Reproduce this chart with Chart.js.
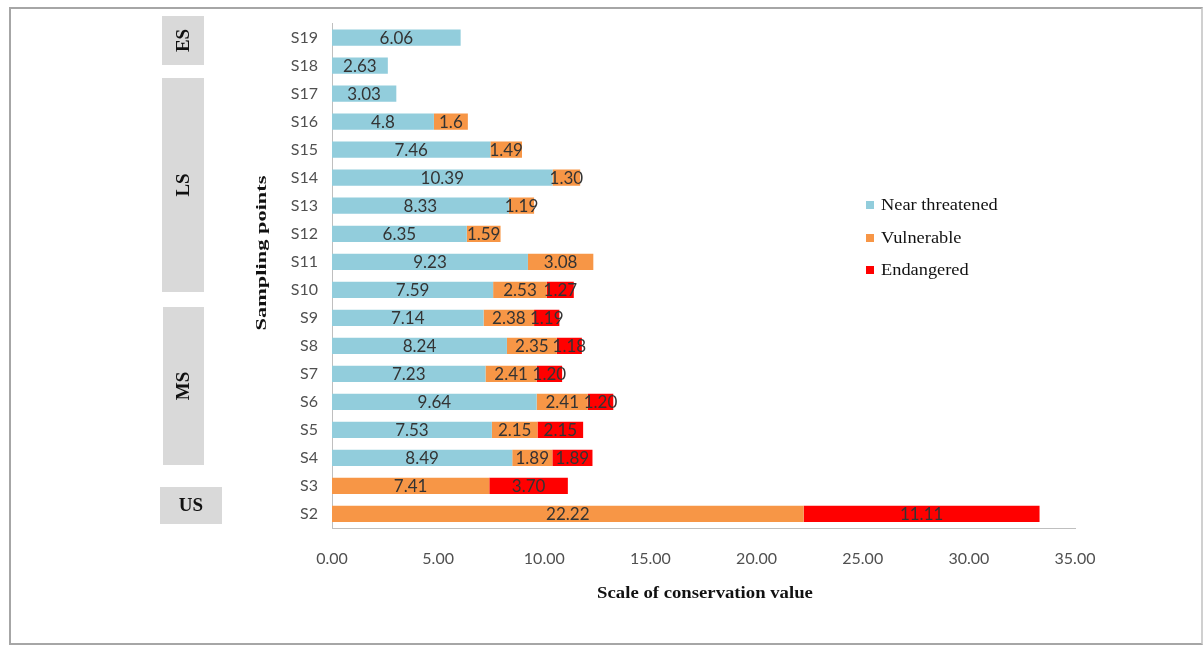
<!DOCTYPE html>
<html>
<head>
<meta charset="utf-8">
<script src="https://cdn.jsdelivr.net/npm/chart.js@4/dist/chart.umd.min.js"></script>
<style>
  html, body { margin: 0; padding: 0; background: #fff; }
  #wrap { position: relative; width: 1203px; height: 645px; }
  #frame { position: absolute; left: 9px; top: 7px; width: 1190px; height: 634px; border: 2px solid #a6a6a6; border-right-color: #d0d0d0; }
  canvas { position: absolute; left: 0; top: 0; }
</style>
</head>
<body>
<div id="wrap">
  <div id="frame"></div>
  <canvas id="chart" width="1203" height="645"></canvas>
</div>
<script>
// Sampling points, top to bottom
const points = ['S19', 'S18', 'S17', 'S16', 'S15', 'S14', 'S13', 'S12', 'S11', 'S10',
                'S9', 'S8', 'S7', 'S6', 'S5', 'S4', 'S3', 'S2'];

const nearThreatened = [6.06, 2.63, 3.03, 4.8, 7.46, 10.39, 8.33, 6.35, 9.23, 7.59,
                        7.14, 8.24, 7.23, 9.64, 7.53, 8.49, null, null];
const vulnerable = [null, null, null, 1.6, 1.49, 1.30, 1.19, 1.59, 3.08, 2.53,
                    2.38, 2.35, 2.41, 2.41, 2.15, 1.89, 7.41, 22.22];
const endangered = [null, null, null, null, null, null, null, null, null, 1.27,
                    1.19, 1.18, 1.20, 1.20, 2.15, 1.89, 3.70, 11.11];

// label text as printed on the bars
const ntLabels = ['6.06', '2.63', '3.03', '4.8', '7.46', '10.39', '8.33', '6.35', '9.23', '7.59',
                  '7.14', '8.24', '7.23', '9.64', '7.53', '8.49', '', ''];
const vuLabels = ['', '', '', '1.6', '1.49', '1.30', '1.19', '1.59', '3.08', '2.53',
                  '2.38', '2.35', '2.41', '2.41', '2.15', '1.89', '7.41', '22.22'];
const enLabels = ['', '', '', '', '', '', '', '', '', '1.27',
                  '1.19', '1.18', '1.20', '1.20', '2.15', '1.89', '3.70', '11.11'];

const xTicks = [0, 5, 10, 15, 20, 25, 30, 35];

// zone boxes on the left (ES, LS, MS, US)
const zones = [
  { name: 'ES', x: 162, y: 16, w: 42, h: 49, vertical: true },
  { name: 'LS', x: 162, y: 78, w: 42, h: 214, vertical: true },
  { name: 'MS', x: 163, y: 307, w: 41, h: 158, vertical: true },
  { name: 'US', x: 160, y: 487, w: 62, h: 37, vertical: false }
];

const serif = '"Liberation Serif", "Times New Roman", serif';
const sans = 'Lato, "Open Sans", sans-serif';

const decor = {
  id: 'decor',
  afterDatasetsDraw(chart) {
    const ctx = chart.ctx;
    const allLabels = [ntLabels, vuLabels, enLabels];
    ctx.save();
    ctx.font = '17px ' + sans;
    ctx.fillStyle = '#333';
    ctx.textAlign = 'center';
    ctx.textBaseline = 'middle';
    chart.data.datasets.forEach((ds, i) => {
      chart.getDatasetMeta(i).data.forEach((bar, j) => {
        const txt = allLabels[i][j];
        if (!txt) return;
        const p = bar.getProps(['x', 'y', 'base']);
        ctx.fillText(txt, (p.x + p.base) / 2, p.y + 1);
      });
    });
    ctx.restore();
  },
  afterDraw(chart) {
    const ctx = chart.ctx;
    ctx.save();

    // zone boxes
    zones.forEach(z => {
      ctx.fillStyle = '#d9d9d9';
      ctx.fillRect(z.x, z.y, z.w, z.h);
      ctx.fillStyle = '#111';
      ctx.font = 'bold 19px ' + serif;
      ctx.textAlign = 'center';
      ctx.textBaseline = 'middle';
      ctx.save();
      ctx.translate(z.x + z.w / 2, z.y + z.h / 2);
      if (z.vertical) ctx.rotate(-Math.PI / 2);
      ctx.fillText(z.name, 0, 1);
      ctx.restore();
    });

    // axis titles
    ctx.fillStyle = '#111';
    ctx.textAlign = 'center';
    ctx.textBaseline = 'middle';
    ctx.font = 'bold 16px ' + serif;
    ctx.save();
    ctx.translate(705, 594);
    ctx.scale(1.17, 1.05);
    ctx.fillText('Scale of conservation value', 0, 0);
    ctx.restore();

    ctx.save();
    ctx.translate(262, 253);
    ctx.rotate(-Math.PI / 2);
    ctx.scale(1.4, 0.95);
    ctx.fillText('Sampling points', 0, 0);
    ctx.restore();

    // legend
    const ly = [205, 238, 270];
    ctx.font = '17px ' + serif;
    ctx.textAlign = 'left';
    chart.data.datasets.forEach((ds, i) => {
      ctx.fillStyle = ds.backgroundColor;
      ctx.fillRect(866, ly[i] - 4, 8, 8);
      ctx.fillStyle = '#111';
      ctx.save();
      ctx.translate(881, ly[i] + 1);
      ctx.scale(1.08, 1);
      ctx.fillText(ds.label, 0, 0);
      ctx.restore();
    });
    ctx.restore();
  }
};

new Chart(document.getElementById('chart'), {
  type: 'bar',
  data: {
    labels: points,
    datasets: [
      { label: 'Near threatened', data: nearThreatened, backgroundColor: '#92cddc' },
      { label: 'Vulnerable', data: vulnerable, backgroundColor: '#f79646' },
      { label: 'Endangered', data: endangered, backgroundColor: '#ff0000' }
    ]
  },
  options: {
    indexAxis: 'y',
    responsive: false,
    animation: false,
    layout: { padding: { top: 6, right: 128, bottom: 0, left: 0 } },
    datasets: { bar: { categoryPercentage: 1, barPercentage: 0.58 } },
    plugins: { legend: { display: false }, tooltip: { enabled: false } },
    scales: {
      x: {
        stacked: true,
        min: 0,
        max: 35,
        afterBuildTicks: s => { s.ticks = xTicks.map(v => ({ value: v })); },
        afterFit: s => { s.height = 117; },
        grid: { display: false, drawTicks: false },
        border: { display: true, color: '#bfbfbf', width: 1 },
        ticks: {
          padding: 21,
          color: '#505050',
          font: { family: sans, size: 16 },
          callback: v => Number(v).toFixed(2)
        }
      },
      y: {
        stacked: true,
        afterFit: s => { s.width = 332; },
        grid: { display: false, drawTicks: false },
        border: { display: true, color: '#bfbfbf', width: 1 },
        ticks: {
          padding: 14,
          color: '#505050',
          font: { family: sans, size: 16 }
        }
      }
    }
  },
  plugins: [decor]
});
</script>
</body>
</html>
